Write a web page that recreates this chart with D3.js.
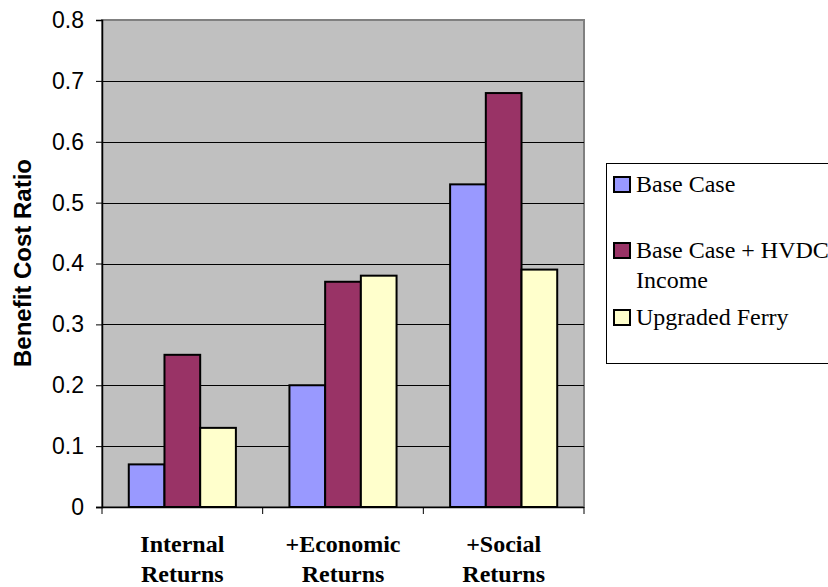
<!DOCTYPE html>
<html>
<head>
<meta charset="utf-8">
<script src="https://cdn.jsdelivr.net/npm/d3@7"></script>
<style>
  body { margin: 0; background: #fff; }
  svg { display: block; }
</style>
</head>
<body>
<div id="chart"></div>
<script>
// data
var categories = [["Internal", "Returns"], ["+Economic", "Returns"], ["+Social", "Returns"]];
var seriesNames = ["Base Case", "Base Case + HVDC|Income", "Upgraded Ferry"];
var seriesColors = ["#9999ff", "#993366", "#ffffcc"];
var baseCase = [0.07, 0.2, 0.53];
var hvdcIncome = [0.25, 0.37, 0.68];
var upgradedFerry = [0.13, 0.38, 0.39];
var yTicks = [0, 0.1, 0.2, 0.3, 0.4, 0.5, 0.6, 0.7, 0.8];

var series = [baseCase, hvdcIncome, upgradedFerry];

var width = 828, height = 587;
var plot = {left: 102, top: 20, right: 584, bottom: 507};
var sans = "'Liberation Sans', Arial, sans-serif";
var serif = "'Liberation Serif', 'Times New Roman', serif";

var svg = d3.select("#chart").append("svg")
    .attr("width", width)
    .attr("height", height);

var catIdx = categories.map(function (d, i) { return i; });

var x0 = d3.scaleBand()
    .domain(catIdx)
    .range([plot.left, plot.right])
    .paddingInner(0)
    .paddingOuter(0);

// excel style: gap width ~150% of a bar
var x1 = d3.scaleBand()
    .domain([0, 1, 2])
    .range([0, x0.bandwidth()])
    .paddingInner(0)
    .paddingOuter(0.75);

var y = d3.scaleLinear()
    .domain([0, 0.8])
    .range([plot.bottom, plot.top]);

// plot background
svg.append("rect")
    .attr("x", plot.left)
    .attr("y", plot.top)
    .attr("width", plot.right - plot.left)
    .attr("height", plot.bottom - plot.top)
    .attr("fill", "#c0c0c0")
    .attr("stroke", "#808080")
    .attr("stroke-width", 2);

// gridlines
svg.append("g")
    .selectAll("line")
    .data(yTicks.filter(function (d) { return d > 0 && d < 0.8; }))
    .enter()
    .append("line")
    .attr("x1", plot.left)
    .attr("x2", plot.right)
    .attr("y1", function (d) { return Math.round(y(d)) + 0.5; })
    .attr("y2", function (d) { return Math.round(y(d)) + 0.5; })
    .attr("stroke", "#000")
    .attr("stroke-width", 1);

// bars
var groups = svg.append("g")
    .selectAll("g")
    .data(catIdx)
    .enter()
    .append("g")
    .attr("transform", function (i) { return "translate(" + x0(i) + ",0)"; });

groups.selectAll("rect")
    .data(function (i) { return series.map(function (s, k) { return {k: k, v: s[i]}; }); })
    .enter()
    .append("rect")
    .attr("x", function (d) { return x1(d.k); })
    .attr("y", function (d) { return y(d.v); })
    .attr("width", x1.bandwidth())
    .attr("height", function (d) { return y(0) - y(d.v); })
    .attr("fill", function (d) { return seriesColors[d.k]; })
    .attr("stroke", "#000")
    .attr("stroke-width", 2);

// y axis
var yAxis = svg.append("g")
    .attr("transform", "translate(" + plot.left + ",0)")
    .call(d3.axisLeft(y).tickValues(yTicks).tickSize(6).tickPadding(12)
        .tickFormat(function (d) { return d === 0 ? "0" : d3.format(".1f")(d); }));
yAxis.select(".domain").attr("stroke", "#000").attr("stroke-width", 1.5);
yAxis.selectAll(".tick line").attr("stroke", "#000");
yAxis.selectAll("text")
    .attr("font-family", sans)
    .attr("font-size", 23)
    .attr("fill", "#000");

// x axis
var xAxisG = svg.append("g")
    .attr("transform", "translate(0," + plot.bottom + ")");
xAxisG.append("line")
    .attr("x1", plot.left - 6)
    .attr("x2", plot.right)
    .attr("y1", 0.5)
    .attr("y2", 0.5)
    .attr("stroke", "#000")
    .attr("stroke-width", 1.5);
xAxisG.selectAll("line.tick")
    .data(catIdx.concat([categories.length]))
    .enter()
    .append("line")
    .attr("class", "tick")
    .attr("x1", function (i) { return i < categories.length ? x0(i) : plot.right; })
    .attr("x2", function (i) { return i < categories.length ? x0(i) : plot.right; })
    .attr("y1", 0)
    .attr("y2", 7)
    .attr("stroke", "#000");

var xLabels = xAxisG.selectAll("text")
    .data(catIdx)
    .enter()
    .append("text")
    .attr("x", function (i) { return x0(i) + x0.bandwidth() / 2; })
    .attr("y", 45)
    .attr("text-anchor", "middle")
    .attr("font-family", serif)
    .attr("font-weight", "bold")
    .attr("font-size", 24);
xLabels.selectAll("tspan")
    .data(function (i) { return categories[i]; })
    .enter()
    .append("tspan")
    .attr("x", function () { return d3.select(this.parentNode).attr("x"); })
    .attr("dy", function (d, j) { return j === 0 ? 0 : 30; })
    .text(function (d) { return d; });

// y title
svg.append("text")
    .attr("transform", "translate(31," + 263 + ") rotate(-90)")
    .attr("text-anchor", "middle")
    .attr("font-family", sans)
    .attr("font-weight", "bold")
    .attr("font-size", 24)
    .text("Benefit Cost Ratio");

// legend
var legend = svg.append("g");
legend.append("rect")
    .attr("x", 606.5)
    .attr("y", 163.5)
    .attr("width", 240)
    .attr("height", 200)
    .attr("fill", "#fff")
    .attr("stroke", "#000")
    .attr("stroke-width", 1);

var legendY = [192, 258, 325];
var items = legend.selectAll("g.item")
    .data(seriesNames)
    .enter()
    .append("g")
    .attr("class", "item")
    .attr("transform", function (d, i) { return "translate(613," + legendY[i] + ")"; });

items.append("rect")
    .attr("x", 1)
    .attr("y", -15)
    .attr("width", 16)
    .attr("height", 15)
    .attr("fill", function (d, i) { return seriesColors[i]; })
    .attr("stroke", "#000")
    .attr("stroke-width", 2);

items.append("text")
    .attr("x", 23)
    .attr("y", 0)
    .attr("font-family", serif)
    .attr("font-size", 24)
    .selectAll("tspan")
    .data(function (d) { return d.split("|"); })
    .enter()
    .append("tspan")
    .attr("x", 23)
    .attr("dy", function (d, j) { return j === 0 ? 0 : 30; })
    .text(function (d) { return d; });
</script>
</body>
</html>
